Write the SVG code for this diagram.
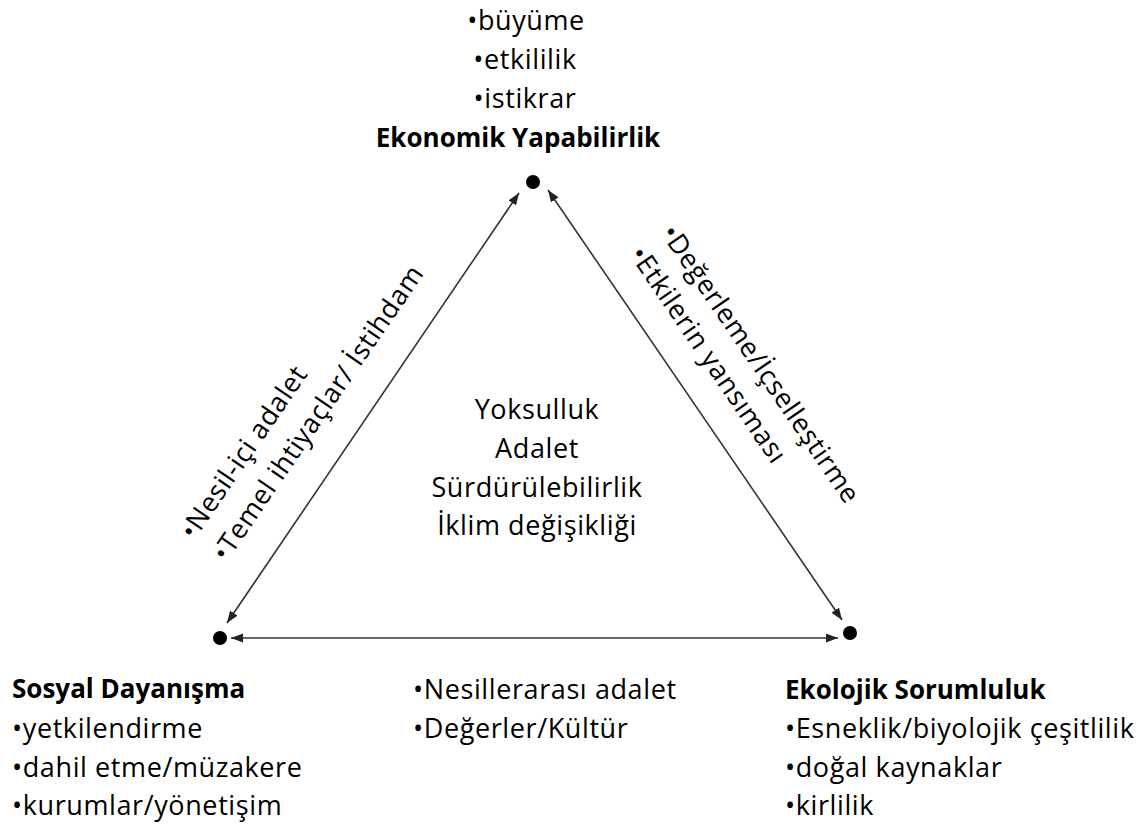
<svg xmlns="http://www.w3.org/2000/svg" width="1143" height="825" viewBox="0 0 1143 825">
<style>
  text { font-family: "Open Sans", Lato, "Liberation Sans", sans-serif; font-size: 27px; letter-spacing: 0.6px; fill: #000; }
  .b { font-weight: bold; font-size: 26px; letter-spacing: 0; }
  .mid { text-anchor: middle; }
  .conn { stroke: #333; stroke-width: 1.6; fill: none; marker-start: url(#ah); marker-end: url(#ah); }
  .dot { fill: #000; }
</style>
<defs>
  <marker id="ah" markerUnits="userSpaceOnUse" markerWidth="13" markerHeight="10" refX="12" refY="4.5" orient="auto-start-reverse">
    <path d="M0,0 L12,4.5 L0,9 z" fill="#222"/>
  </marker>
</defs>
<rect width="1143" height="825" fill="#fff"/>
<g id="connectors">
  <line class="conn" x1="227" y1="623" x2="519" y2="193"/>
  <line class="conn" x1="548" y1="190" x2="842" y2="620"/>
  <line class="conn" x1="231" y1="638" x2="838" y2="638"/>
</g>
<g id="node-ekonomik">
  <circle class="dot" cx="533" cy="182" r="7"/>
  <text class="mid" x="526" y="30">•büyüme</text>
  <text class="mid" x="525" y="69">•etkililik</text>
  <text class="mid" x="525" y="108">•istikrar</text>
  <text class="mid b" x="518" y="147">Ekonomik Yapabilirlik</text>
</g>
<g id="node-sosyal">
  <circle class="dot" cx="220" cy="638" r="7"/>
  <text class="b" x="12" y="698">Sosyal Dayanışma</text>
  <text x="12" y="738">•yetkilendirme</text>
  <text x="12" y="777">•dahil etme/müzakere</text>
  <text x="12" y="815">•kurumlar/yönetişim</text>
</g>
<g id="node-ekolojik">
  <circle class="dot" cx="850" cy="633" r="7"/>
  <text class="b" x="785" y="699">Ekolojik Sorumluluk</text>
  <text x="785" y="738">•Esneklik/biyolojik çeşitlilik</text>
  <text x="785" y="777">•doğal kaynaklar</text>
  <text x="785" y="815">•kirlilik</text>
</g>
<g id="node-center">
  <text class="mid" x="537" y="419">Yoksulluk</text>
  <text class="mid" x="537" y="458">Adalet</text>
  <text class="mid" x="537" y="497">Sürdürülebilirlik</text>
  <text class="mid" x="537" y="535">İklim değişikliği</text>
</g>
<g id="label-left">
  <text transform="translate(194,541) rotate(-55.6)"><tspan x="0" y="0">•Nesil-içi adalet</tspan><tspan x="0" y="39">•Temel ihtiyaçlar/ İstihdam</tspan></text>
</g>
<g id="label-right">
  <text transform="translate(660,233) rotate(55.7)"><tspan x="0" y="0">•Değerleme/İçselleştirme</tspan><tspan x="0" y="38">•Etkilerin yansıması</tspan></text>
</g>
<g id="label-bottom">
  <text x="413" y="699">•Nesillerarası adalet</text>
  <text x="413" y="738">•Değerler/Kültür</text>
</g>
</svg>
